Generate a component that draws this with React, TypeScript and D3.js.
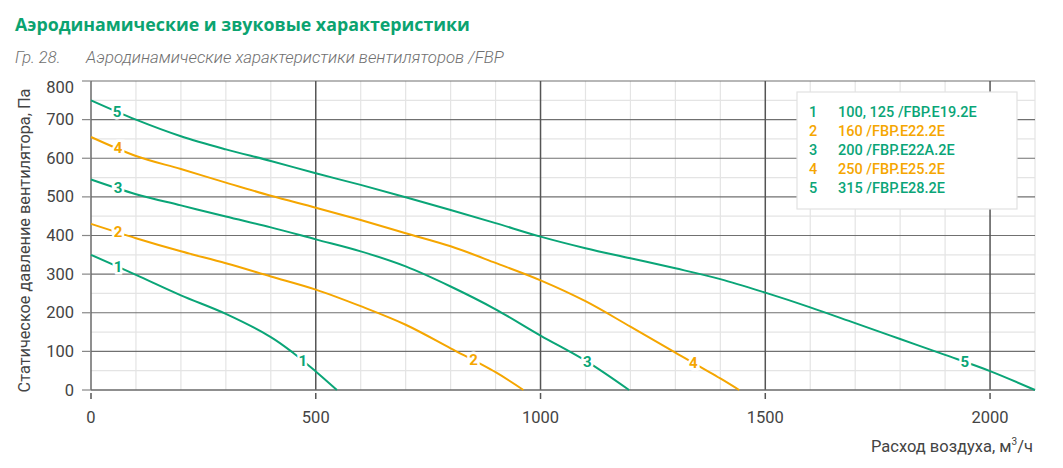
import React from "react";
import * as d3 from "d3";

const GREEN = "#0aa577";
const ORANGE = "#f5a600";

const xTicks = [0, 500, 1000, 1500, 2000];
const yTicks = [0, 100, 200, 300, 400, 500, 600, 700, 800];

const curve1: [number, number][] = [[0, 350], [100, 298], [200, 245], [300, 197], [400, 137], [450, 96], [500, 48], [547, 0]];
const curve2: [number, number][] = [[0, 430], [100, 393], [200, 359], [300, 328], [400, 294], [500, 260], [600, 217], [700, 169], [800, 108], [900, 46], [962, 0]];
const curve3: [number, number][] = [[0, 545], [100, 507], [200, 478], [300, 449], [400, 421], [500, 390], [600, 359], [700, 320], [800, 268], [900, 209], [1000, 141], [1100, 76], [1197, 0]];
const curve4: [number, number][] = [[0, 655], [100, 606], [200, 572], [300, 537], [400, 503], [500, 472], [600, 440], [700, 406], [800, 372], [900, 329], [1000, 284], [1100, 230], [1200, 164], [1300, 97], [1400, 30], [1442, 0]];
const curve5: [number, number][] = [[0, 750], [100, 700], [200, 657], [300, 623], [400, 593], [500, 561], [600, 531], [700, 499], [800, 466], [900, 432], [1000, 397], [1100, 367], [1200, 341], [1300, 315], [1400, 287], [1500, 252], [1600, 214], [1700, 173], [1800, 132], [1900, 91], [2000, 49], [2100, 0]];

const seriesNames = ["1", "2", "3", "4", "5"];
const seriesLegend = ["100, 125 /FBP.E19.2E", "160 /FBP.E22.2E", "200 /FBP.E22A.2E", "250 /FBP.E25.2E", "315 /FBP.E28.2E"];
const seriesColors = [GREEN, ORANGE, GREEN, ORANGE, GREEN];
const seriesData = [curve1, curve2, curve3, curve4, curve5];
const labelStartX = [60, 60, 60, 60, 58];
const labelEndX = [471, 851, 1104, 1340, 1944];

const W = 1063;
const H = 468;
const L = 91, R = 1035, T = 81, B = 390;

export default function App() {
  const x = d3.scaleLinear().domain([0, 2100]).range([L, R]);
  const y = d3.scaleLinear().domain([0, 800]).range([B, T]);
  const line = d3.line<[number, number]>().x(d => x(d[0])).y(d => y(d[1])).curve(d3.curveCatmullRom.alpha(0.5));

  const interp = (data: [number, number][], xv: number) => {
    for (let i = 0; i < data.length - 1; i++) {
      const [x0, y0] = data[i];
      const [x1, y1] = data[i + 1];
      if (xv >= x0 && xv <= x1) return y0 + ((xv - x0) / (x1 - x0)) * (y1 - y0);
    }
    return data[data.length - 1][1];
  };

  const minorX = d3.range(100, 2101, 100).filter(v => v % 500 !== 0);
  const majorX = [500, 1000, 1500, 2000];
  const minorY = d3.range(50, 800, 100);
  const majorY = d3.range(100, 801, 100);

  const font = "Roboto, 'Noto Sans', sans-serif";

  return (
    <svg width={W} height={H} style={{ position: "absolute", left: 0, top: 0, background: "#fff" }} fontFamily={font}>
      <text x={15} y={31} fontFamily="'Open Sans', sans-serif" fontWeight={700} fontSize={17.8} fill="#0ba370">
        Аэродинамические и звуковые характеристики
      </text>
      <text x={15} y={63} fontStyle="italic" fontWeight={300} fontSize={16.5} fill="#707070">Гр. 28.</text>
      <text x={86} y={63} fontStyle="italic" fontWeight={300} fontSize={16.8} fill="#707070">
        Аэродинамические характеристики вентиляторов /FBP
      </text>

      {minorX.map(v => (
        <line key={"mx" + v} x1={x(v)} x2={x(v)} y1={T} y2={B} stroke="#e4e4e4" strokeWidth={1.2} />
      ))}
      {minorY.map(v => (
        <line key={"my" + v} x1={L} x2={R} y1={y(v)} y2={y(v)} stroke="#e4e4e4" strokeWidth={1.2} />
      ))}
      {majorY.map(v => (
        <line key={"My" + v} x1={L} x2={R} y1={y(v)} y2={y(v)} stroke="#707070" strokeWidth={1.2} />
      ))}
      {majorX.map(v => (
        <line key={"Mx" + v} x1={x(v)} x2={x(v)} y1={T} y2={B} stroke="#555" strokeWidth={1.5} />
      ))}
      <line x1={L} x2={L} y1={T} y2={B} stroke="#6a6a6a" strokeWidth={1.5} />
      <line x1={L} x2={R} y1={B} y2={B} stroke="#6a6a6a" strokeWidth={1.5} />
      {yTicks.map(v => (
        <line key={"yt" + v} x1={L - 9} x2={L} y1={y(v)} y2={y(v)} stroke="#888" strokeWidth={1.2} />
      ))}
      {xTicks.map(v => (
        <line key={"xt" + v} x1={x(v)} x2={x(v)} y1={B + 3} y2={B + 9} stroke="#555" strokeWidth={1.5} />
      ))}
      {yTicks.map(v => (
        <text key={"yl" + v} x={74} y={y(v) + (v === 800 ? 6 : 0)} textAnchor="end" dominantBaseline="central" fontSize={16.5} fill="#444">
          {v}
        </text>
      ))}
      {xTicks.map(v => (
        <text key={"xl" + v} x={x(v)} y={417} textAnchor="middle" dominantBaseline="central" fontSize={16.5} fill="#444">
          {v}
        </text>
      ))}
      <text x={1033} y={446} textAnchor="end" dominantBaseline="central" fontSize={16.5} fill="#444">
        Расход воздуха, м<tspan dy={-5} fontSize={10}>3</tspan><tspan dy={5}>/ч</tspan>
      </text>
      <text transform={`translate(24,${(T + B) / 2 + 5}) rotate(-90)`} textAnchor="middle" dominantBaseline="central" fontSize={16.3} fill="#444">
        Статическое давление вентилятора, Па
      </text>

      {seriesData.map((d, i) => (
        <path key={"c" + i} d={line(d) || ""} fill="none" stroke={seriesColors[i]} strokeWidth={2} />
      ))}
      {seriesData.map((d, i) => (
        <g key={"lab" + i}>
          {[labelStartX[i], labelEndX[i]].map((lx, j) => (
            <text key={j} x={x(lx)} y={y(interp(d, lx))} textAnchor="middle" dominantBaseline="central"
              fontSize={15} fontWeight={700} fill={seriesColors[i]} stroke="#fff" strokeWidth={5}
              style={{ paintOrder: "stroke" }}>
              {seriesNames[i]}
            </text>
          ))}
        </g>
      ))}

      <rect x={797} y={92} width={220} height={117} fill="#fff" stroke="#e2e2e2" strokeWidth={1.2} />
      {seriesLegend.map((s, i) => (
        <g key={"lg" + i}>
          <text x={809} y={112 + i * 19} dominantBaseline="central" fontSize={14.5} fontWeight={500} fill={seriesColors[i]}>
            {seriesNames[i]}
          </text>
          <text x={838} y={112 + i * 19} dominantBaseline="central" fontSize={14.5} fontWeight={500} fill={seriesColors[i]}>
            {s}
          </text>
        </g>
      ))}
    </svg>
  );
}
